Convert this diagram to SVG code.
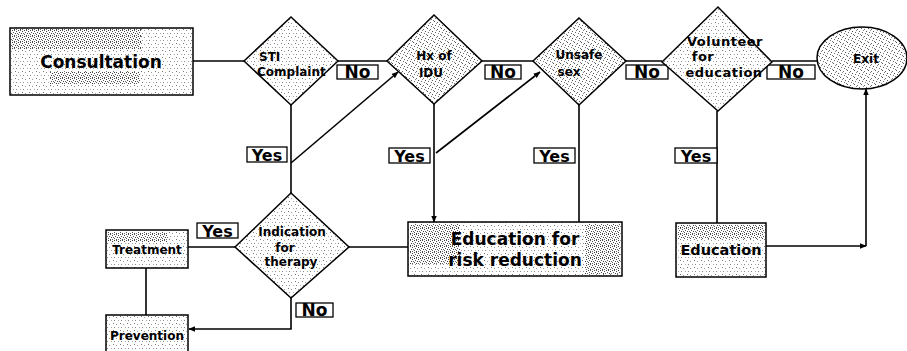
<svg xmlns="http://www.w3.org/2000/svg" width="907" height="351" viewBox="0 0 907 351">
<defs>
<pattern id="lt" width="7" height="7" patternUnits="userSpaceOnUse">
<rect width="7" height="7" fill="#fff"/><rect x="1" y="1" width="1" height="1" fill="#777"/><rect x="4" y="2" width="1" height="1" fill="#999"/><rect x="2" y="5" width="1" height="1" fill="#888"/><rect x="6" y="5" width="1" height="1" fill="#aaa"/>
</pattern>
<pattern id="md" width="7" height="7" patternUnits="userSpaceOnUse">
<rect width="7" height="7" fill="#fff"/><rect x="0" y="0" width="1" height="1" fill="#555"/><rect x="3" y="1" width="1" height="1" fill="#666"/><rect x="5" y="3" width="1" height="1" fill="#555"/><rect x="1" y="4" width="1" height="1" fill="#666"/><rect x="4" y="5" width="1" height="1" fill="#777"/><rect x="6" y="6" width="1" height="1" fill="#777"/><rect x="2" y="2" width="1" height="1" fill="#888"/>
</pattern>
<pattern id="dk" width="6" height="6" patternUnits="userSpaceOnUse">
<rect width="6" height="6" fill="#fff"/><rect x="0" y="0" width="1" height="1" fill="#444"/><rect x="2" y="0" width="1" height="1" fill="#555"/><rect x="4" y="1" width="1" height="1" fill="#444"/><rect x="1" y="2" width="1" height="1" fill="#555"/><rect x="3" y="3" width="1" height="1" fill="#444"/><rect x="5" y="3" width="1" height="1" fill="#666"/><rect x="0" y="4" width="1" height="1" fill="#555"/><rect x="2" y="5" width="1" height="1" fill="#444"/><rect x="4" y="5" width="1" height="1" fill="#666"/>
</pattern>
<marker id="ah" viewBox="0 0 10 10" refX="9" refY="5" markerWidth="7" markerHeight="7" orient="auto-start-reverse" markerUnits="userSpaceOnUse">
<path d="M0,1 L10,5 L0,9 z" fill="#000"/>
</marker>
</defs>
<style>
.box{stroke:#000;stroke-width:1.5;fill:url(#lt)}
.md{fill:url(#md)}
.band{fill:url(#dk);stroke:none}
.lbl{fill:#fff;stroke:#000;stroke-width:1.3}
.t{font-family:"DejaVu Sans",Verdana,sans-serif;font-weight:bold;fill:#000}
.c{text-anchor:middle}
.ln{stroke:#000;stroke-width:1.6;fill:none}
</style>
<rect width="907" height="351" fill="#fff"/>

<g id="connectors">
<line class="ln" x1="193" y1="61" x2="244" y2="61"/>
<line class="ln" x1="338" y1="61" x2="387" y2="61"/>
<line class="ln" x1="482" y1="61" x2="533" y2="61"/>
<line class="ln" x1="626" y1="61" x2="662" y2="61"/>
<line class="ln" x1="772" y1="61" x2="817" y2="61"/>
<line class="ln" x1="291" y1="105" x2="291" y2="193"/>
<line class="ln" x1="291" y1="163" x2="398" y2="72" marker-end="url(#ah)"/>
<line class="ln" x1="434" y1="104" x2="434" y2="222" marker-end="url(#ah)"/>
<line class="ln" x1="436" y1="153" x2="540" y2="72" marker-end="url(#ah)"/>
<line class="ln" x1="579" y1="105" x2="579" y2="222"/>
<line class="ln" x1="717" y1="111" x2="717" y2="223"/>
<line class="ln" x1="235" y1="247" x2="188" y2="247"/>
<line class="ln" x1="349" y1="247" x2="408" y2="247"/>
<line class="ln" x1="146" y1="268" x2="146" y2="315"/>
<polyline class="ln" points="291,298 291,329 189,329" marker-end="url(#ah)"/>
<line class="ln" x1="766" y1="246" x2="866" y2="246" stroke-width="2" marker-end="url(#ah)"/>
<line class="ln" x1="866" y1="246" x2="866" y2="89" stroke-width="2" marker-end="url(#ah)"/>
<g id="labels">
<rect class="lbl" x="337" y="65" width="41" height="14"/><text class="t c" x="357.5" y="78" font-size="17">No</text>
<rect class="lbl" x="485" y="65" width="36" height="14"/><text class="t c" x="503" y="78" font-size="17">No</text>
<rect class="lbl" x="626" y="65" width="42" height="14"/><text class="t c" x="647" y="78" font-size="17">No</text>
<rect class="lbl" x="767" y="65" width="48" height="14"/><text class="t c" x="791" y="78" font-size="17">No</text>
<rect class="lbl" x="296" y="303" width="37" height="14"/><text class="t c" x="314.5" y="316" font-size="17">No</text>
<rect class="lbl" x="247" y="147" width="40" height="15"/><text class="t c" x="267" y="161" font-size="16">Yes</text>
<rect class="lbl" x="389" y="148" width="41" height="15"/><text class="t c" x="409.5" y="162" font-size="16">Yes</text>
<rect class="lbl" x="534" y="148" width="41" height="15"/><text class="t c" x="554.5" y="162" font-size="16">Yes</text>
<rect class="lbl" x="675" y="148" width="42" height="15"/><text class="t c" x="696" y="162" font-size="16">Yes</text>
<rect class="lbl" x="197" y="223" width="41" height="15"/><text class="t c" x="217.5" y="237" font-size="16">Yes</text>
</g>
</g>

<g id="consultation">
<rect class="box" x="10" y="28" width="183" height="67"/>
<rect class="band" x="11" y="29" width="130" height="20"/>
<rect class="band" x="50" y="72" width="90" height="12"/>
<text class="t c" x="101" y="68" font-size="17">Consultation</text>
</g>
<g id="sti">
<polygon class="box" points="244,61 291,17 338,61 291,105"/>
<text class="t" x="259" y="61" font-size="12">STI</text>
<text class="t" x="257" y="76" font-size="12">Complaint</text>
</g>
<g id="hx">
<polygon class="box md" points="387,61 434,15 482,61 434,104"/>
<text class="t c" x="434" y="60" font-size="12">Hx of</text>
<text class="t c" x="431" y="77" font-size="12">IDU</text>
</g>
<g id="unsafe">
<polygon class="box md" points="533,61 579,18 626,61 579,105"/>
<text class="t c" x="579" y="59" font-size="12">Unsafe</text>
<text class="t c" x="569" y="76" font-size="12">sex</text>
</g>
<g id="volunteer">
<polygon class="box" points="662,62 718,7 772,62 718,111"/>
<text class="t c" x="725" y="46" font-size="13" letter-spacing="0.5">Volunteer</text>
<text class="t c" x="703" y="60.5" font-size="13" letter-spacing="0.5">for</text>
<text class="t c" x="724" y="77" font-size="13" letter-spacing="0.5">education</text>
</g>
<g id="exit">
<ellipse class="box md" cx="862" cy="58" rx="45" ry="31"/>
<text class="t c" x="866" y="63" font-size="12">Exit</text>
</g>
<g id="indication">
<polygon class="box" points="235,247 291,193 349,247 291,298"/>
<text class="t c" x="292" y="236" font-size="12">Indication</text>
<text class="t c" x="285" y="252" font-size="12">for</text>
<text class="t c" x="291" y="266" font-size="12">therapy</text>
</g>
<g id="treatment">
<rect class="box" x="106" y="230" width="82" height="38"/>
<rect class="band" x="108" y="232" width="60" height="10"/>
<text class="t c" x="147" y="254" font-size="12">Treatment</text>
</g>
<g id="prevention">
<rect class="box" x="106" y="315" width="82" height="40"/>
<text class="t c" x="147" y="340" font-size="12">Prevention</text>
</g>
<g id="edu-risk">
<rect class="box" x="408" y="222" width="214" height="54"/>
<rect class="band" x="410" y="224" width="50" height="40"/>
<rect class="band" x="585" y="224" width="35" height="50"/>
<text class="t c" x="515" y="245" font-size="17">Education for</text>
<text class="t c" x="515" y="266" font-size="17">risk reduction</text>
</g>
<g id="education">
<rect class="box" x="676" y="223" width="90" height="54"/>
<rect class="band" x="678" y="225" width="86" height="14"/>
<text class="t c" x="721" y="255" font-size="14.5">Education</text>
</g>
</svg>
